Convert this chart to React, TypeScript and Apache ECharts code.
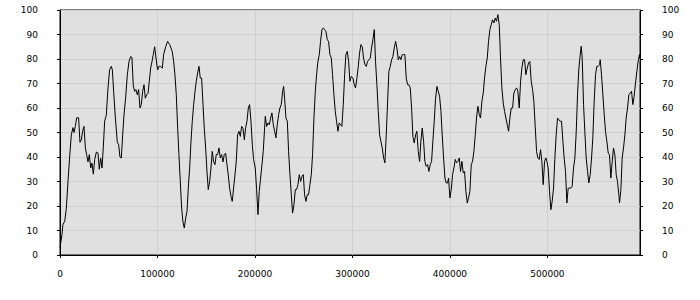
import React, { useEffect, useRef } from "react";
import * as echarts from "echarts";

// x range and ticks
const xMin = 0;
const xMax = 595000;
const xStep = 100000;
const yMin = 0;
const yMax = 100;
const yStep = 10;

// series samples, split by x range: [x, value]
const seg0: [number, number][] = [
  [0, 3], [2000, 8.3], [3000, 12.4], [4800, 13.7], [6500, 19], [8200, 30], [9900, 40], [11600, 49], [13300, 52], [14400, 50],
  [15700, 52.5], [17100, 56], [19100, 56], [20500, 46], [21900, 47], [23200, 50.5], [24600, 52.5], [26000, 43.7], [27300, 41], [28700, 38],
  [30100, 41], [31500, 35.5], [32800, 37.5], [34200, 33], [35600, 39], [37300, 42], [39000, 41.6], [40300, 35], [41700, 39.6], [43100, 35.5],
  [44400, 43.7], [45800, 54.6], [47500, 57], [49200, 68], [50900, 75.6], [52600, 77], [53700, 75.6], [55000, 66.8], [56800, 56], [58800, 46],
  [60200, 45], [61500, 40], [62900, 39.6], [64300, 49], [65600, 57], [67300, 64], [69100, 73.6], [70800, 79], [72500, 81], [73800, 80.6],
  [75200, 69], [76600, 66.8], [77900, 67.5], [79300, 65.4], [80700, 67.5], [82000, 60], [83400, 61.4], [84800, 66.8], [86200, 69.5], [87500, 64],
  [88900, 65.4], [90300, 66], [91600, 70.9], [93000, 76.3], [94400, 79], [95700, 81.8], [97100, 85], [98500, 80.4], [99800, 76.3],
];

const seg1: [number, number][] = [
  [100200, 75.6], [101500, 77], [102900, 77], [105000, 76.3], [106300, 81.8], [108400, 85], [110400, 87.2], [112500, 85.9], [113800, 84.5], [115200, 83],
  [116600, 79], [117900, 73.6], [119300, 65.4], [120700, 51.8], [122000, 41], [123400, 30], [124800, 19.2], [126100, 13.7], [127500, 11], [128900, 15],
  [130300, 17.8], [131600, 27.3], [133000, 35.5], [134400, 46.4], [135700, 54.6], [137100, 61.4], [138500, 66.8], [139800, 70.9], [141200, 74.3], [142600, 77],
  [143900, 72.2], [145300, 72.2], [146700, 61.4], [148000, 51.8], [149400, 43.7], [150800, 34], [152100, 26.7], [153500, 30], [154900, 35.5], [156200, 42.3],
  [157600, 38], [159000, 36.9], [160300, 41], [161700, 41], [163100, 43.7], [164400, 39.6], [165800, 41], [167200, 38], [168500, 41], [169900, 41.6],
  [171300, 36.9], [172600, 32.8], [174000, 27.3], [175400, 24], [176700, 21.9], [178100, 27.3], [179500, 32.8], [180800, 38], [182200, 49], [183600, 50.5],
  [185000, 48.4], [186300, 52.5], [187700, 51.8], [189100, 47], [190400, 51.8], [191800, 54.6], [193200, 60], [194500, 61.4], [195900, 54.6], [197300, 45],
  [198600, 39],
];

const seg2: [number, number][] = [
  [200300, 35.5], [201700, 26.7], [203100, 16.5], [204400, 26], [205800, 31.4], [207200, 36.9], [208500, 42.3], [209900, 51.8], [210600, 56.6], [212000, 52.5],
  [213300, 53.9], [214700, 53.2], [216100, 55.9], [217400, 58], [218800, 53.2], [220200, 50.5], [221500, 47.8], [222900, 53.2], [224300, 57.3], [225600, 60],
  [227000, 61.4], [228400, 66.8], [229400, 68.8], [230400, 64], [231800, 55.9], [233200, 54.6], [234500, 42.3], [235900, 32.8], [237300, 24.6], [238600, 17.1],
  [240000, 20.5], [241400, 26.7], [242700, 26.7], [244100, 28.7], [245500, 32.8], [246800, 30], [248200, 32.1], [249600, 32.8], [250900, 24.6], [252300, 21.9],
  [253700, 24.6], [255000, 24.6], [256400, 28.7], [257800, 32.8], [259100, 41], [260500, 55.9], [261900, 66.8], [263200, 73.6], [264600, 79], [266000, 81.8],
  [267300, 87.2], [268700, 92], [270100, 92.7], [271400, 92], [272800, 91.3], [274200, 87.9], [275500, 87.2], [276900, 81.8], [278300, 80.4], [279600, 73.6],
  [281000, 65.4], [282400, 58.6], [283700, 54.6], [285100, 50.5], [286500, 53.9], [287900, 53.2], [289200, 52.5], [290600, 61.4], [292000, 73.6], [293300, 81.8],
  [294700, 83.1], [296100, 79], [297400, 70.9], [298800, 72.9],
];

const seg3: [number, number][] = [
  [300500, 72.2], [301900, 69.5], [303200, 68.2], [304600, 72.2], [306000, 77], [307300, 82.4], [308700, 85.9], [310100, 85], [311400, 80.4], [312800, 77.7],
  [314200, 77], [315500, 79], [316900, 79.7], [318300, 80.4], [319600, 84.5], [321000, 87.9], [322400, 92], [323700, 79], [325100, 69.5], [326500, 58.6],
  [327900, 49], [329200, 46.4], [330600, 43.7], [332000, 39.6], [333300, 37.6], [334700, 49], [336100, 62.7], [337400, 75], [338800, 77], [340200, 79.7],
  [341500, 81], [342900, 84.5], [344300, 87.2], [345600, 84.5], [347000, 79.7], [348400, 81], [349700, 79.7], [351100, 81.8], [352500, 81.8], [353800, 81.8],
  [355200, 72.2], [356600, 69.5], [357900, 69.5], [359300, 68.2], [360700, 60], [362000, 48.4], [363400, 45.7], [364800, 49], [366100, 50.5], [367500, 42.3],
  [368900, 38.2], [370200, 46.4], [371600, 51.8], [373000, 46.4], [374300, 38.2], [375700, 36.2], [377100, 36.9], [378400, 34.1], [379800, 36.9], [381200, 38.2],
  [382500, 46.4], [383900, 54.6], [385300, 64], [386700, 68.8], [388000, 66.8], [389400, 64.8], [390800, 58.6], [392100, 49], [393500, 39.6], [394900, 31.4],
  [396200, 29.4], [397600, 29.4], [398600, 31.4],
];

const seg4: [number, number][] = [
  [400000, 23.3], [401400, 26.7], [402700, 32.8], [404100, 35.5], [405500, 39], [406800, 37.6], [408200, 38.2], [409600, 39.6], [410900, 34.1], [412300, 38.2],
  [413700, 33.5], [415000, 34.1], [416400, 26], [417800, 21.2], [419100, 23.3], [420500, 26], [421900, 36.9], [423200, 38.2], [424600, 42.3], [426000, 49],
  [427300, 55.9], [428700, 60.7], [430100, 57.3], [431400, 55.9], [432800, 62.7], [434200, 66.1], [435500, 72.2], [436900, 77], [438300, 80.4], [439600, 87.2],
  [441000, 92], [442400, 94], [443700, 96], [445100, 94.7], [446500, 96.7], [447800, 95.4], [449200, 98.1], [450600, 94], [451900, 80.4], [453300, 68.2],
  [454700, 62], [456100, 58.6], [457400, 55.9], [458800, 53.2], [460200, 50.5], [461500, 55.9], [462900, 60], [464300, 60], [465600, 66.1], [467000, 67.5],
  [468400, 68.2], [469700, 66.8], [471100, 60], [472500, 70.9], [473800, 76.3], [475200, 79.7], [476600, 79.7], [477900, 73.6], [479300, 76.3], [480700, 78.4],
  [482000, 79], [483400, 70.9], [484800, 67.5], [486100, 62.7], [487500, 52.5], [488900, 42.3], [490200, 39.6], [491600, 39], [493000, 43], [494300, 38.2],
  [495700, 28.7], [497100, 38.2], [498400, 39.6],
];

const seg5: [number, number][] = [
  [499500, 38.2], [500800, 35.5], [502200, 26], [503600, 18.5], [504900, 21.9], [506300, 27.3], [507700, 39.6], [509000, 49], [510400, 55.9], [511800, 55.2],
  [513100, 54.6], [514500, 54.6], [515900, 46.4], [517200, 39.6], [518600, 34.1], [520000, 21.2], [521300, 27.3], [522700, 27.3], [524100, 27.3], [525400, 28],
  [526800, 35.5], [528200, 39.6], [529600, 50.5], [530900, 65.4], [532300, 76.3], [533700, 81.8], [534700, 85.2], [535700, 80.4], [537100, 61.4], [538400, 50.5],
  [539800, 39.6], [541200, 34.1], [542500, 29.4], [543900, 32.8], [545300, 39.6], [546600, 47.8], [548000, 62.7], [549400, 73.6], [550700, 77], [552100, 77],
  [553500, 77.7], [554200, 79.7], [555500, 73.6], [556900, 65.4], [558300, 57.3], [559600, 50.5], [561000, 46.4], [562400, 41.6], [563700, 40.9], [565100, 31.4],
  [566500, 38.2], [567800, 43.7], [569200, 40.9], [570600, 32.8], [571900, 30], [573300, 24.6], [574000, 21.2], [575400, 26.7], [576700, 39.6], [578100, 43.7],
  [579500, 49], [580800, 55.9], [582200, 60], [583600, 65.4], [584900, 66.1], [586300, 66.8], [587700, 61.4], [589000, 64.8], [590400, 70.2], [591800, 75],
  [593100, 79], [594500, 81.8], [595000, 80],
];

const FONT = "DejaVu Sans";

export default function App() {
  const ref = useRef<HTMLDivElement>(null);

  useEffect(() => {
    if (!ref.current) return;
    const chart = echarts.init(ref.current, undefined, { renderer: "svg" });
    const data = [...seg0, ...seg1, ...seg2, ...seg3, ...seg4, ...seg5];
    const yAxisBase = {
      type: "value" as const,
      min: yMin,
      max: yMax,
      interval: yStep,
      axisLine: { show: true, lineStyle: { color: "#000", width: 1 } },
      axisTick: { show: true, length: 3, lineStyle: { color: "#000" } },
      axisLabel: { color: "#000", fontFamily: FONT, fontSize: 9, margin: 22 },
    };
    chart.setOption({
      animation: false,
      grid: {
        left: 60,
        right: 60,
        top: 10,
        bottom: 45,
        show: true,
        backgroundColor: "#e0e0e0",
        borderColor: "#000",
        borderWidth: 1,
      },
      xAxis: {
        type: "value",
        min: xMin,
        max: xMax,
        interval: xStep,
        axisLine: { show: true, onZero: false, lineStyle: { color: "#000", width: 1 } },
        axisTick: { show: true, length: 3, lineStyle: { color: "#000" } },
        axisLabel: {
          color: "#000",
          fontFamily: FONT,
          fontSize: 9,
          margin: 14,
          showMaxLabel: false,
          formatter: (v: number) => String(v),
        },
        splitLine: { show: true, lineStyle: { color: "#cfcfcf", width: 1 } },
      },
      yAxis: [
        {
          ...yAxisBase,
          position: "left",
          splitLine: { show: true, lineStyle: { color: "#cfcfcf", width: 1 } },
        },
        {
          ...yAxisBase,
          position: "right",
          splitLine: { show: false },
        },
      ],
      series: [
        {
          type: "line",
          data,
          yAxisIndex: 0,
          showSymbol: false,
          symbol: "none",
          lineStyle: { color: "#000", width: 1 },
          silent: true,
        },
      ],
    });
    return () => chart.dispose();
  }, []);

  return (
    <div
      ref={ref}
      style={{ position: "absolute", left: 0, top: 0, width: 700, height: 300 }}
    />
  );
}
